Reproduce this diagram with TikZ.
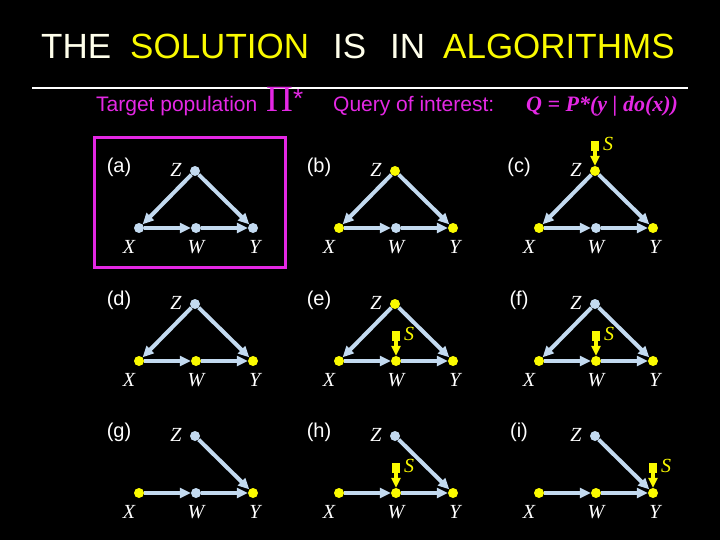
\documentclass[tikz,border=0pt]{standalone}
\usepackage{fontspec}
\setmainfont{Liberation Serif}
\newfontfamily\sansf{Liberation Sans}
\usetikzlibrary{arrows.meta}
\definecolor{lb}{RGB}{195,218,240}
\definecolor{yl}{RGB}{250,250,0}
\definecolor{mg}{RGB}{228,40,228}
\definecolor{cream}{RGB}{255,255,235}
\tikzset{
  vtx/.style={circle,inner sep=0pt,minimum size=10pt},
  lab/.style={font=\fontsize{20}{22}\selectfont\itshape,text=white,inner sep=0pt},
  plab/.style={font=\sansf\fontsize{20}{22}\selectfont,text=white,inner sep=0pt},
  edge/.style={draw=lb,line width=4pt,-{Triangle[length=11pt,width=10pt]}},
  sedge/.style={draw=yl,line width=4pt,-{Triangle[length=10pt,width=9pt]}},
  sbox/.style={fill=yl,inner sep=0pt,minimum width=8pt,minimum height=10pt},
  slab/.style={font=\fontsize{20}{22}\selectfont\itshape,text=yl,inner sep=0pt},
  ttl/.style={font=\sansf\fontsize{35}{40}\selectfont,anchor=base west,inner sep=0pt},
  hdr/.style={font=\sansf\fontsize{21}{24}\selectfont,text=mg,anchor=base west,inner sep=0pt},
}
% id, x, y (of X), label, Z colour, X colour, W colour, Y colour
\newcommand\drawpanel[8]{%
  \node[vtx,fill=#5] (#1Z) at (#2+56,#3-57) {};
  \node[vtx,fill=#6] (#1X) at (#2,#3) {};
  \node[vtx,fill=#7] (#1W) at (#2+57,#3) {};
  \node[vtx,fill=#8] (#1Y) at (#2+114,#3) {};
  \node[plab] (#1lab) at (#2-20,#3-61) {(#4)};
  \node[lab] (#1lz) at (#2+37,#3-58) {Z};
  \node[lab] (#1lx) at (#2-10,#3+19) {X};
  \node[lab] (#1lw) at (#2+57,#3+19) {W};
  \node[lab] (#1ly) at (#2+116,#3+19) {Y};
}
\newcommand\triedges[1]{%
  \draw[edge] (#1Z) -- (#1X);
  \draw[edge] (#1Z) -- (#1Y);
  \draw[edge] (#1X) -- (#1W);
  \draw[edge] (#1W) -- (#1Y);
}
\newcommand\chainedges[1]{%
  \draw[edge] (#1Z) -- (#1Y);
  \draw[edge] (#1X) -- (#1W);
  \draw[edge] (#1W) -- (#1Y);
}
% id, target node suffix
\newcommand\selnode[2]{%
  \node[sbox] (#1S) at ([yshift=25pt]#1#2.center) {};
  \node[slab] (#1Slab) at ([xshift=13pt,yshift=2pt]#1S.center) {S};
  \draw[sedge] (#1S) -- (#1#2);
}
\begin{document}
\begin{tikzpicture}[x=1pt,y=-1pt]
\fill[black] (0,0) rectangle (720,540);
\useasboundingbox (0,0) rectangle (720,540);
% title
\node[ttl,text=cream] (t1) at (41,59) {THE};
\node[ttl,text=yl] (t2) at (130,59) {SOLUTION};
\node[ttl,text=cream] (t3) at (333,59) {IS};
\node[ttl,text=cream] (t4) at (390,59) {IN};
\node[ttl,text=yl] (t5) at (443,59) {ALGORITHMS};
\draw[white,line width=2pt] (32,88) coordinate (l1) -- (688,88) coordinate (l2);
% header
\node[hdr] (h1) at (96,112) {Target population};
\node[font=\fontsize{37}{40}\selectfont,text=mg,anchor=base west,inner sep=0pt] (h2) at (266,112) {Π};
\node[font=\sansf\fontsize{26}{28}\selectfont,text=mg,anchor=base west,inner sep=0pt] (h3) at (293,108) {*};
\node[hdr] (h4) at (333,112) {Query of interest:};
\node[font=\fontsize{22}{24}\selectfont\bfseries\itshape,text=mg,anchor=base west,inner sep=0pt] (h5) at (526,112) {Q = P*(y | do(x))};
% highlight box
\draw[mg,line width=3pt] (94,138) rectangle (285,267);
% panels
\drawpanel{a}{139}{228}{a}{lb}{lb}{lb}{lb}
\drawpanel{b}{339}{228}{b}{yl}{yl}{lb}{yl}
\drawpanel{c}{539}{228}{c}{yl}{yl}{lb}{yl}
\drawpanel{d}{139}{361}{d}{lb}{yl}{yl}{yl}
\drawpanel{e}{339}{361}{e}{yl}{yl}{yl}{yl}
\drawpanel{f}{539}{361}{f}{lb}{yl}{yl}{yl}
\drawpanel{g}{139}{493}{g}{lb}{yl}{lb}{yl}
\drawpanel{h}{339}{493}{h}{lb}{yl}{yl}{yl}
\drawpanel{i}{539}{493}{i}{lb}{yl}{yl}{yl}
\triedges{a}\triedges{b}\triedges{c}
\triedges{d}\triedges{e}\triedges{f}
\chainedges{g}\chainedges{h}\chainedges{i}
\selnode{c}{Z}
\selnode{e}{W}
\selnode{f}{W}
\selnode{h}{W}
\selnode{i}{Y}
\end{tikzpicture}
\end{document}
